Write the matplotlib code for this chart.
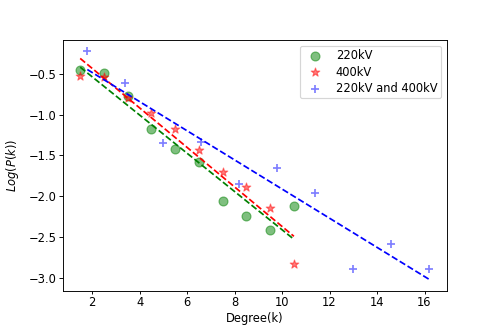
import matplotlib
matplotlib.use("Agg")
import matplotlib.pyplot as plt
import numpy as np

# degree (k) and log P(k)
k_220 = [1.5, 2.5, 3.5, 4.5, 5.5, 6.5, 7.5, 8.5, 9.5, 10.5]
logp_220 = [-0.45, -0.49, -0.77, -1.17, -1.42, -1.58, -2.06, -2.25, -2.42, -2.12]

k_400 = [1.5, 2.5, 3.5, 4.5, 5.5, 6.5, 7.5, 8.5, 9.5, 10.5]
logp_400 = [-0.52, -0.54, -0.79, -0.98, -1.17, -1.43, -1.70, -1.89, -2.15, -2.84]

k_all = [1.8, 3.4, 5.0, 6.6, 8.2, 9.8, 11.4, 13.0, 14.6, 16.2]
logp_all = [-0.22, -0.61, -1.35, -1.33, -1.85, -1.65, -1.96, -2.89, -2.59, -2.89]

fig = plt.figure(figsize=(6, 4), dpi=83)
fig.subplots_adjust(left=0.126, right=0.897, top=0.88, bottom=0.124)
ax = plt.subplot()

ax.scatter(k_220, logp_220, c='g', alpha=0.5, s=60, label='220kV')
ax.scatter(k_400, logp_400, c='r', alpha=0.5, s=60, marker='*', label='400kV')
ax.scatter(k_all, logp_all, c='b', alpha=0.5, s=60, marker='+', label='220kV and 400kV')

# linear fits
for k, lp, col in [(k_220, logp_220, 'g'), (k_400, logp_400, 'r'), (k_all, logp_all, 'b')]:
    a, b = np.polyfit(k, lp, 1)
    xs = np.array([k[0], k[-1]])
    ax.plot(xs, a*xs + b, '--', color=col, linewidth=1.5)

ax.tick_params(axis='x', length=2.5, pad=2)
ax.tick_params(axis='y', length=3.5, pad=2)
ax.set_xlabel('Degree(k)', labelpad=3)
ax.set_ylabel('$Log(P(k))$', labelpad=6)
ax.legend(loc='upper right', labelspacing=0.3, borderpad=0.3)

fig.savefig('out.png', dpi=83)
